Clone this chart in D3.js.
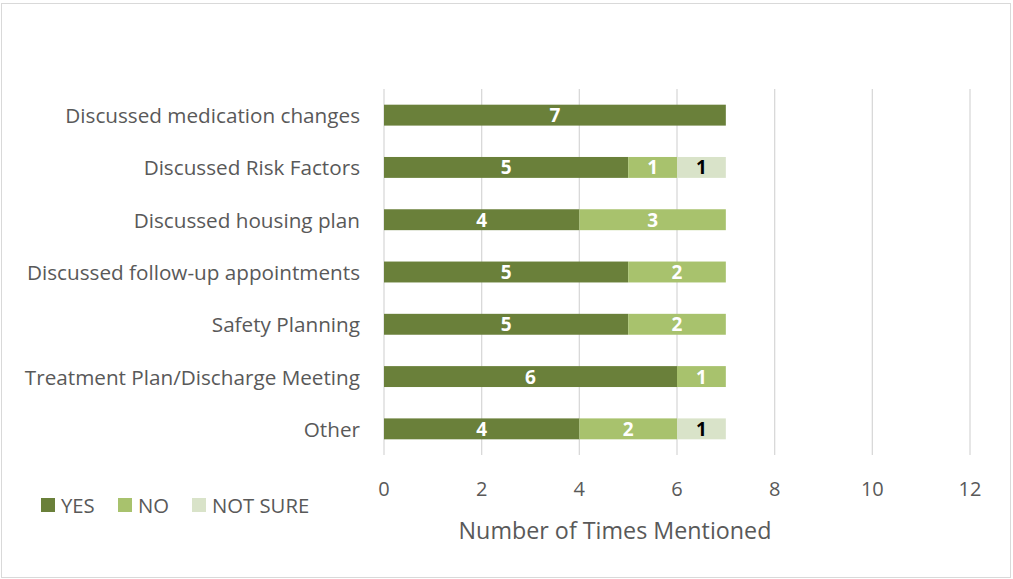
<!DOCTYPE html>
<html>
<head>
<meta charset="utf-8">
<script src="https://cdn.jsdelivr.net/npm/d3@7"></script>
<style>
  body { margin: 0; background: #fff; }
  text { font-family: "Open Sans", Lato, sans-serif; }
</style>
</head>
<body>
<div id="chart"></div>
<script>
// Chart data
const categories = [
  "Discussed medication changes",
  "Discussed Risk Factors",
  "Discussed housing plan",
  "Discussed follow-up appointments",
  "Safety Planning",
  "Treatment Plan/Discharge Meeting",
  "Other"
];
const seriesNames = ["YES", "NO", "NOT SURE"];
const yesValues = [7, 5, 4, 5, 5, 6, 4];
const noValues = [0, 1, 3, 2, 2, 1, 2];
const notSureValues = [0, 1, 0, 0, 0, 0, 1];
const xTicks = [0, 2, 4, 6, 8, 10, 12];
const colors = ["#6a803a", "#a8c26d", "#d9e3c9"];
const labelColors = ["#fff", "#fff", "#000"];

const width = 1013, height = 579;
const margin = { top: 89, right: 43, bottom: 124, left: 384 };

const svg = d3.select('#chart')
  .append('svg')
  .attr('width', width)
  .attr('height', height);

// chart border
svg.append('rect')
  .attr('x', 1.5).attr('y', 3.5)
  .attr('width', 1009).attr('height', 574)
  .attr('fill', '#fff')
  .attr('stroke', '#d9d9d9');

const x = d3.scaleLinear()
  .domain([0, 12])
  .range([margin.left, width - margin.right]);

const y = d3.scaleBand()
  .domain(categories)
  .range([margin.top, height - margin.bottom])
  .paddingInner(0.6)
  .paddingOuter(0.3);

// gridlines
svg.append('g')
  .selectAll('line')
  .data(xTicks)
  .enter()
  .append('line')
  .attr('x1', d => x(d)).attr('x2', d => x(d))
  .attr('y1', margin.top).attr('y2', height - margin.bottom)
  .attr('stroke', '#d9d9d9')
  .attr('stroke-width', 1.3);

// stack the series
const rows = categories.map((c, i) => ({
  cat: c, "YES": yesValues[i], "NO": noValues[i], "NOT SURE": notSureValues[i]
}));
const stacked = d3.stack().keys(seriesNames)(rows);

stacked.forEach((layer, li) => {
  const g = svg.append('g');
  g.selectAll('rect')
    .data(layer.filter(d => d[1] > d[0]))
    .enter()
    .append('rect')
    .attr('x', d => x(d[0]))
    .attr('y', d => y(d.data.cat))
    .attr('width', d => x(d[1]) - x(d[0]))
    .attr('height', y.bandwidth())
    .attr('fill', colors[li]);

  g.selectAll('text')
    .data(layer.filter(d => d[1] > d[0]))
    .enter()
    .append('text')
    .attr('x', d => (x(d[0]) + x(d[1])) / 2)
    .attr('y', d => y(d.data.cat) + y.bandwidth() / 2)
    .attr('text-anchor', 'middle')
    .attr('dominant-baseline', 'central')
    .attr('fill', labelColors[li])
    .style('font-size', '19px')
    .style('font-weight', 'bold')
    .text(d => d[1] - d[0]);
});

// category labels
svg.append('g')
  .selectAll('text')
  .data(categories)
  .enter()
  .append('text')
  .attr('x', margin.left - 24)
  .attr('y', d => y(d) + y.bandwidth() / 2)
  .attr('text-anchor', 'end')
  .attr('dominant-baseline', 'central')
  .attr('fill', '#595959')
  .style('font-size', '20.7px')
  .text(d => d);

// x tick labels
svg.append('g')
  .selectAll('text')
  .data(xTicks)
  .enter()
  .append('text')
  .attr('x', d => x(d))
  .attr('y', 488)
  .attr('text-anchor', 'middle')
  .attr('dominant-baseline', 'central')
  .attr('fill', '#595959')
  .style('font-size', '20px')
  .text(d => d);

// axis title
svg.append('text')
  .attr('x', 615)
  .attr('y', 530)
  .attr('text-anchor', 'middle')
  .attr('dominant-baseline', 'central')
  .attr('fill', '#595959')
  .style('font-size', '23.3px')
  .text('Number of Times Mentioned');

// legend
const legendX = [41, 118, 192];
const legend = svg.append('g');
seriesNames.forEach((s, i) => {
  legend.append('rect')
    .attr('x', legendX[i]).attr('y', 498)
    .attr('width', 14).attr('height', 14)
    .attr('fill', colors[i]);
  legend.append('text')
    .attr('x', legendX[i] + 20)
    .attr('y', 505)
    .attr('dominant-baseline', 'central')
    .attr('fill', '#595959')
    .style('font-size', '20.3px')
    .text(s);
});
</script>
</body>
</html>
